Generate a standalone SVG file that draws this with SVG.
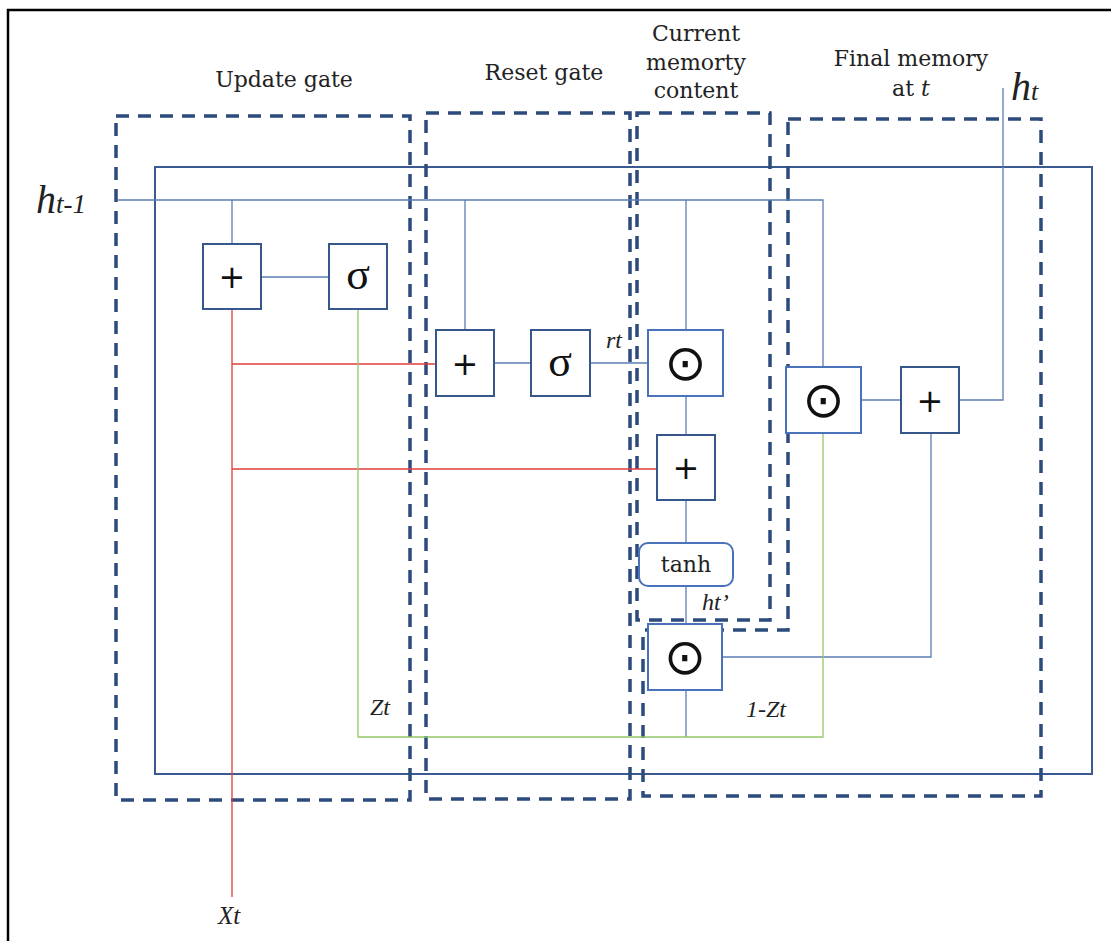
<svg xmlns="http://www.w3.org/2000/svg" width="1111" height="941" viewBox="0 0 1111 941">
<style>
.dash{fill:none;stroke:#2d4b7c;stroke-width:3.5;stroke-dasharray:13 9}
.frame{fill:none;stroke:#3b5a92;stroke-width:2}
.box{fill:#fff;stroke:#37568c;stroke-width:2}
.box2{fill:#fff;stroke:#4a72bb;stroke-width:2}
.c{fill:none;stroke:#5b7db4;stroke-width:1.3}
.red{fill:none;stroke:#e23b3b;stroke-width:1.3}
.grn{fill:none;stroke:#92c86a;stroke-width:1.3}
.t{font-family:"DejaVu Serif",serif;font-size:22px;fill:#222;text-anchor:middle}
.it{font-family:"Liberation Serif",serif;font-style:italic;fill:#222}
.sym{font-family:"DejaVu Sans",sans-serif;fill:#111;text-anchor:middle}
.sig{font-family:"Liberation Serif",serif;fill:#111;text-anchor:middle}
</style>
<rect width="1111" height="941" fill="#fff"/>
<path d="M8,941 V10 H1111" fill="none" stroke="#000" stroke-width="2.5"/>

<g id="labels">
<text class="t" x="284" y="87">Update gate</text>
<text class="t" x="544" y="80">Reset gate</text>
<text class="t" x="696" y="41">Current</text>
<text class="t" x="696" y="70">memorty</text>
<text class="t" x="696" y="98">content</text>
<text class="t" x="911" y="66">Final memory</text>
<text class="t" x="911" y="96">at <tspan font-style="italic">t</tspan></text>
<text class="it" x="36" y="213" font-size="40">h<tspan font-size="27">t-1</tspan></text>
<text class="it" x="1011" y="100" font-size="40">h<tspan font-size="26">t</tspan></text>
<text class="it" x="606" y="348" font-size="24">rt</text>
<text class="it" x="702" y="610" font-size="24">ht’</text>
<text class="it" x="370" y="715" font-size="24">Zt</text>
<text class="it" x="746" y="717" font-size="24">1-Zt</text>
<text class="it" x="218" y="924" font-size="25">Xt</text>
</g>

<g id="regions">
<rect class="frame" x="155" y="167" width="937" height="607"/>
<rect class="dash" x="116" y="116" width="294" height="684"/>
<rect class="dash" x="426" y="113" width="204" height="686"/>
<rect class="dash" x="637" y="113" width="133" height="507"/>
<path class="dash" d="M788,119 H1041 V796 H643 V630 H788 Z"/>
</g>

<g id="connectors">
<path class="c" d="M118,200 H823 V367"/>
<path class="c" d="M232,200 V244"/>
<path class="c" d="M261,277 H329"/>
<path class="c" d="M465,200 V330"/>
<path class="c" d="M686,200 V330"/>
<path class="c" d="M494,363 H531"/>
<path class="c" d="M590,363 H648"/>
<path class="c" d="M686,396 V435"/>
<path class="c" d="M686,500 V543"/>
<path class="c" d="M686,586 V624"/>
<path class="c" d="M686,690 V737"/>
<path class="c" d="M722,657 H931 V433"/>
<path class="c" d="M861,400 H901"/>
<path class="c" d="M959,400 H1003 V88"/>
<path class="red" d="M232,309 V897"/>
<path class="red" d="M232,364 H436"/>
<path class="red" d="M232,469 H657"/>
<path class="grn" d="M358,309 V737 H823 V433"/>
</g>

<g id="update-add"><rect class="box" x="203" y="244" width="58" height="65"/><text class="sym" x="232" y="288" font-size="32">+</text></g>
<g id="update-sigma"><rect class="box" x="329" y="244" width="58" height="65"/><text class="sig" x="358" y="289" font-size="44">σ</text></g>
<g id="reset-add"><rect class="box" x="436" y="330" width="58" height="66"/><text class="sym" x="465" y="375" font-size="32">+</text></g>
<g id="reset-sigma"><rect class="box" x="531" y="330" width="59" height="66"/><text class="sig" x="560" y="376" font-size="44">σ</text></g>
<g id="current-mul"><rect class="box2" x="648" y="330" width="75" height="66"/><text class="sym" x="685.5" y="380" font-size="50">⊙</text></g>
<g id="current-add"><rect class="box" x="657" y="435" width="58" height="65"/><text class="sym" x="686" y="479" font-size="32">+</text></g>
<g id="tanh"><rect class="box2" x="639" y="543" width="94" height="43" rx="9"/><text class="t" x="686" y="572" font-size="24">tanh</text></g>
<g id="lower-mul"><rect class="box2" x="648" y="624" width="74" height="66"/><text class="sym" x="685" y="674" font-size="50">⊙</text></g>
<g id="final-mul"><rect class="box2" x="786" y="367" width="75" height="66"/><text class="sym" x="823.5" y="417" font-size="50">⊙</text></g>
<g id="final-add"><rect class="box" x="901" y="367" width="58" height="66"/><text class="sym" x="930" y="412" font-size="32">+</text></g>
</svg>
